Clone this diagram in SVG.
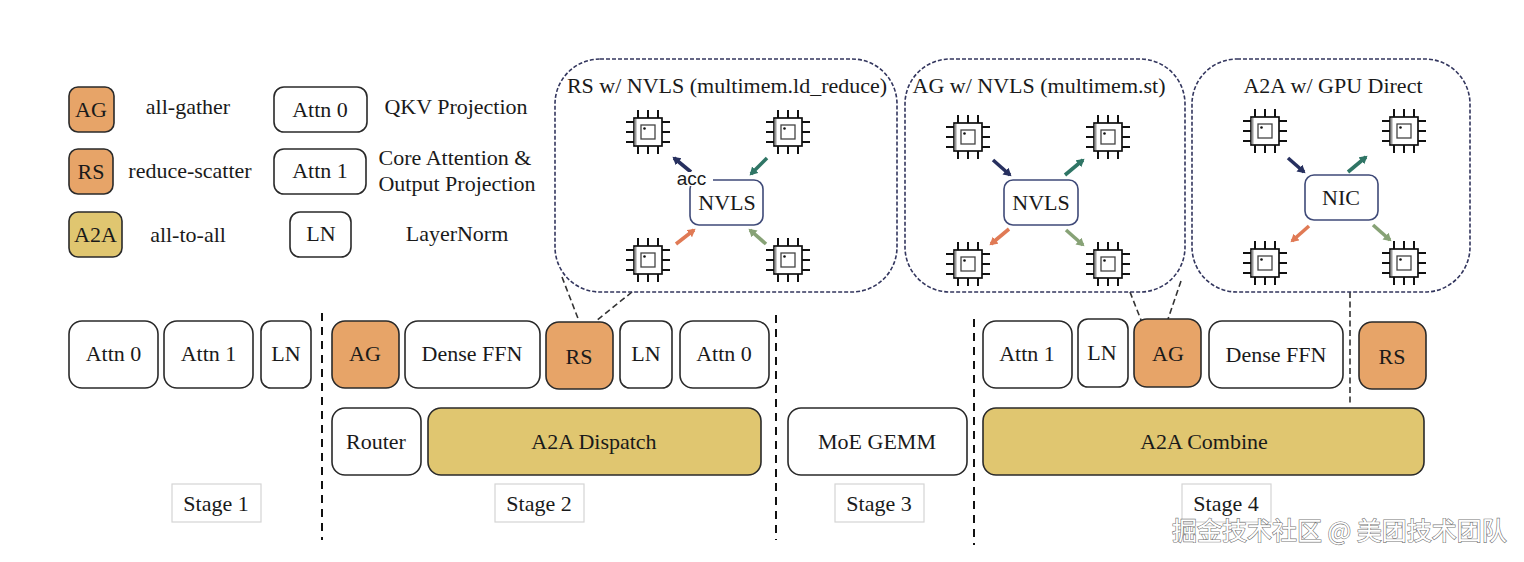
<svg xmlns="http://www.w3.org/2000/svg" xmlns:xlink="http://www.w3.org/1999/xlink" width="1524" height="562" viewBox="0 0 1524 562">
<style>
text{font-family:"Liberation Serif","Noto Sans CJK SC",serif;font-size:22px;fill:#1a1a1a;text-anchor:middle}
.b{stroke:#2a2a2a;stroke-width:1.6}
.w{fill:#fff}.o{fill:#e7a468}.y{fill:#e0c670}
.p{fill:none;stroke:#33365e;stroke-width:1.6;stroke-dasharray:4 2}
.n{fill:#fff;stroke:#3f4a78;stroke-width:1.6}
.c{fill:none;stroke:#333;stroke-width:1.6;stroke-dasharray:6 3.5}
.s{fill:#fff;stroke:#d4d4d4;stroke-width:1.2}
.d{stroke:#111;stroke-width:2;stroke-dasharray:8 6;fill:none}
.a{fill:none;stroke-width:3.6}
.wm{font-family:"Noto Sans CJK SC","Liberation Sans",sans-serif;font-size:25px;fill:#fff;stroke:#777;stroke-width:1.2;paint-order:stroke;text-anchor:start}
</style>
<defs>
<g id="chip">
<path d="M-10-22V-14M0-22V-14M10-22V-14M-10 14V22M0 14V22M10 14V22M-22-10H-14M-22 0H-14M-22 10H-14M14-10H22M14 0H22M14 10H22" stroke="#111" stroke-width="2" fill="none"/>
<rect x="-14" y="-14" width="28" height="28" fill="#fff" stroke="#111" stroke-width="1.7"/>
<path d="M-12.500-13V13" stroke="#999" stroke-width="2"/>
<rect x="-7" y="-7" width="14" height="14" fill="#fff" stroke="#444" stroke-width="1.3"/>
<circle cx="-3.500" cy="-3.500" r="1.300" fill="#111"/>
</g>
<marker id="mNavy" markerUnits="userSpaceOnUse" markerWidth="10" markerHeight="10" refX="6" refY="4.500" orient="auto"><path d="M0 0L8 4.500L0 9z" fill="#27305f"/></marker>
<marker id="mTeal" markerUnits="userSpaceOnUse" markerWidth="10" markerHeight="10" refX="6" refY="4.500" orient="auto"><path d="M0 0L8 4.500L0 9z" fill="#2f7565"/></marker>
<marker id="mOrange" markerUnits="userSpaceOnUse" markerWidth="10" markerHeight="10" refX="6" refY="4.500" orient="auto"><path d="M0 0L8 4.500L0 9z" fill="#e07a55"/></marker>
<marker id="mGreen" markerUnits="userSpaceOnUse" markerWidth="10" markerHeight="10" refX="6" refY="4.500" orient="auto"><path d="M0 0L8 4.500L0 9z" fill="#87a276"/></marker>
</defs>
<rect width="1524" height="562" fill="#fff"/>

<g id="connectors">
<path class="c" d="M562 277L579 321M632 292L596 321M1130 292L1141 320M1181 281L1168 319M1350 292V405"/>
<path class="d" d="M322 313V540M776 315V540M974 319V545"/>
<g class="a">
<path stroke="#27305f" marker-end="url(#mNavy)" d="M691 172L674 158"/>
<path stroke="#2f7565" marker-end="url(#mTeal)" d="M767 158L751 174"/>
<path stroke="#e07a55" marker-end="url(#mOrange)" d="M676 244L694 230"/>
<path stroke="#87a276" marker-end="url(#mGreen)" d="M766 244L750 230"/>
<path stroke="#27305f" marker-end="url(#mNavy)" d="M993 160L1010 175"/>
<path stroke="#2f7565" marker-end="url(#mTeal)" d="M1065 175L1083 160"/>
<path stroke="#e07a55" marker-end="url(#mOrange)" d="M1009 229L991 244"/>
<path stroke="#87a276" marker-end="url(#mGreen)" d="M1066 230L1083 245"/>
<path stroke="#27305f" marker-end="url(#mNavy)" d="M1288 158L1304 172"/>
<path stroke="#2f7565" marker-end="url(#mTeal)" d="M1348 172L1366 157"/>
<path stroke="#e07a55" marker-end="url(#mOrange)" d="M1309 226L1292 241"/>
<path stroke="#87a276" marker-end="url(#mGreen)" d="M1373 225L1390 240"/>
</g>
</g>

<g id="legend-ag"><rect class="b o" x="69" y="87" width="45" height="45" rx="9"/><text x="91" y="117">AG</text></g>
<g id="legend-rs"><rect class="b o" x="69" y="149" width="44" height="45" rx="9"/><text x="91" y="179">RS</text></g>
<g id="legend-a2a"><rect class="b y" x="69" y="212" width="53" height="45" rx="9"/><text x="95.500" y="242">A2A</text></g>
<g id="legend-attn0"><rect class="b w" x="274" y="87" width="93" height="45" rx="10"/><text x="320" y="117">Attn 0</text></g>
<g id="legend-attn1"><rect class="b w" x="274" y="149" width="92" height="45" rx="10"/><text x="320" y="178">Attn 1</text></g>
<g id="legend-ln"><rect class="b w" x="290" y="212" width="61" height="45" rx="10"/><text x="321" y="241">LN</text></g>
<g id="legend-labels">
<text x="188" y="114">all-gather</text>
<text x="190" y="178">reduce-scatter</text>
<text x="188" y="242">all-to-all</text>
<text x="456" y="114">QKV Projection</text>
<text x="455" y="165">Core Attention &amp;</text>
<text x="457" y="191">Output Projection</text>
<text x="457" y="241">LayerNorm</text>
</g>

<g id="panel-rs">
<rect class="p" x="555" y="59" width="342" height="233" rx="45"/>
<text x="727" y="93">RS w/ NVLS (multimem.ld_reduce)</text>
<use xlink:href="#chip" href="#chip" x="648" y="132"/><use xlink:href="#chip" href="#chip" x="788" y="132"/>
<use xlink:href="#chip" href="#chip" x="648" y="260"/><use xlink:href="#chip" href="#chip" x="788" y="260"/>
<g id="nvls-rs"><rect class="n" x="690" y="180" width="73" height="45" rx="9"/><rect x="676" y="172" width="37" height="14" fill="#fff"/><text x="727" y="210">NVLS</text></g>
<text x="691.500" y="185" style="font-family:'Liberation Sans',sans-serif;font-size:19px">acc</text>
</g>
<g id="panel-ag">
<rect class="p" x="905" y="59" width="280" height="233" rx="45"/>
<text x="1039" y="93">AG w/ NVLS (multimem.st)</text>
<use xlink:href="#chip" href="#chip" x="968" y="137"/><use xlink:href="#chip" href="#chip" x="1108" y="137"/>
<use xlink:href="#chip" href="#chip" x="968" y="264"/><use xlink:href="#chip" href="#chip" x="1108" y="264"/>
<g id="nvls-ag"><rect class="n" x="1004" y="180" width="74" height="45" rx="9"/><text x="1041" y="210">NVLS</text></g>
</g>
<g id="panel-a2a">
<rect class="p" x="1192" y="59" width="278" height="233" rx="45"/>
<text x="1333" y="93">A2A w/ GPU Direct</text>
<use xlink:href="#chip" href="#chip" x="1265" y="131"/><use xlink:href="#chip" href="#chip" x="1404" y="131"/>
<use xlink:href="#chip" href="#chip" x="1265" y="263"/><use xlink:href="#chip" href="#chip" x="1404" y="263"/>
<g id="nic"><rect class="n" x="1305" y="175" width="73" height="45" rx="9"/><text x="1341" y="205">NIC</text></g>
</g>

<g id="s1-attn0"><rect class="b w" x="69" y="321" width="89" height="67" rx="13"/><text x="113.500" y="361">Attn 0</text></g>
<g id="s1-attn1"><rect class="b w" x="164" y="321" width="89" height="67" rx="13"/><text x="208.500" y="361">Attn 1</text></g>
<g id="s1-ln"><rect class="b w" x="261" y="321" width="50" height="67" rx="10"/><text x="286" y="361">LN</text></g>
<g id="s2-ag"><rect class="b o" x="332" y="321" width="67" height="67" rx="13"/><text x="365" y="361">AG</text></g>
<g id="s2-ffn"><rect class="b w" x="405" y="321" width="135" height="67" rx="13"/><text x="472" y="361">Dense FFN</text></g>
<g id="s2-rs"><rect class="b o" x="546" y="322" width="67" height="67" rx="13"/><text x="579" y="364">RS</text></g>
<g id="s2-ln"><rect class="b w" x="620" y="321" width="52" height="67" rx="10"/><text x="646" y="361">LN</text></g>
<g id="s2-attn0"><rect class="b w" x="680" y="321" width="89" height="67" rx="13"/><text x="724" y="361">Attn 0</text></g>
<g id="s2-router"><rect class="b w" x="332" y="408" width="89" height="67" rx="13"/><text x="376" y="449">Router</text></g>
<g id="s2-dispatch"><rect class="b y" x="428" y="408" width="333" height="67" rx="13"/><text x="594" y="449">A2A Dispatch</text></g>
<g id="s3-gemm"><rect class="b w" x="788" y="408" width="179" height="67" rx="13"/><text x="877" y="449">MoE GEMM</text></g>
<g id="s4-attn1"><rect class="b w" x="983" y="321" width="89" height="67" rx="13"/><text x="1027" y="361">Attn 1</text></g>
<g id="s4-ln"><rect class="b w" x="1078" y="319" width="50" height="68" rx="10"/><text x="1102" y="360">LN</text></g>
<g id="s4-ag"><rect class="b o" x="1134" y="319" width="67" height="68" rx="13"/><text x="1168" y="361">AG</text></g>
<g id="s4-ffn"><rect class="b w" x="1209" y="321" width="134" height="67" rx="13"/><text x="1276" y="362">Dense FFN</text></g>
<g id="s4-rs"><rect class="b o" x="1359" y="322" width="67" height="67" rx="13"/><text x="1392" y="364">RS</text></g>
<g id="s4-combine"><rect class="b y" x="983" y="408" width="441" height="67" rx="13"/><text x="1204" y="449">A2A Combine</text></g>

<g id="stage1"><rect class="s" x="172" y="484" width="89" height="38"/><text x="216" y="511">Stage 1</text></g>
<g id="stage2"><rect class="s" x="495" y="484" width="89" height="38"/><text x="539" y="511">Stage 2</text></g>
<g id="stage3"><rect class="s" x="835" y="484" width="89" height="38"/><text x="879" y="511">Stage 3</text></g>
<g id="stage4"><rect class="s" x="1182" y="484" width="89" height="38"/><text x="1226" y="511">Stage 4</text></g>

<text class="wm" x="1172" y="540">掘金技术社区 @ 美团技术团队</text>
</svg>
